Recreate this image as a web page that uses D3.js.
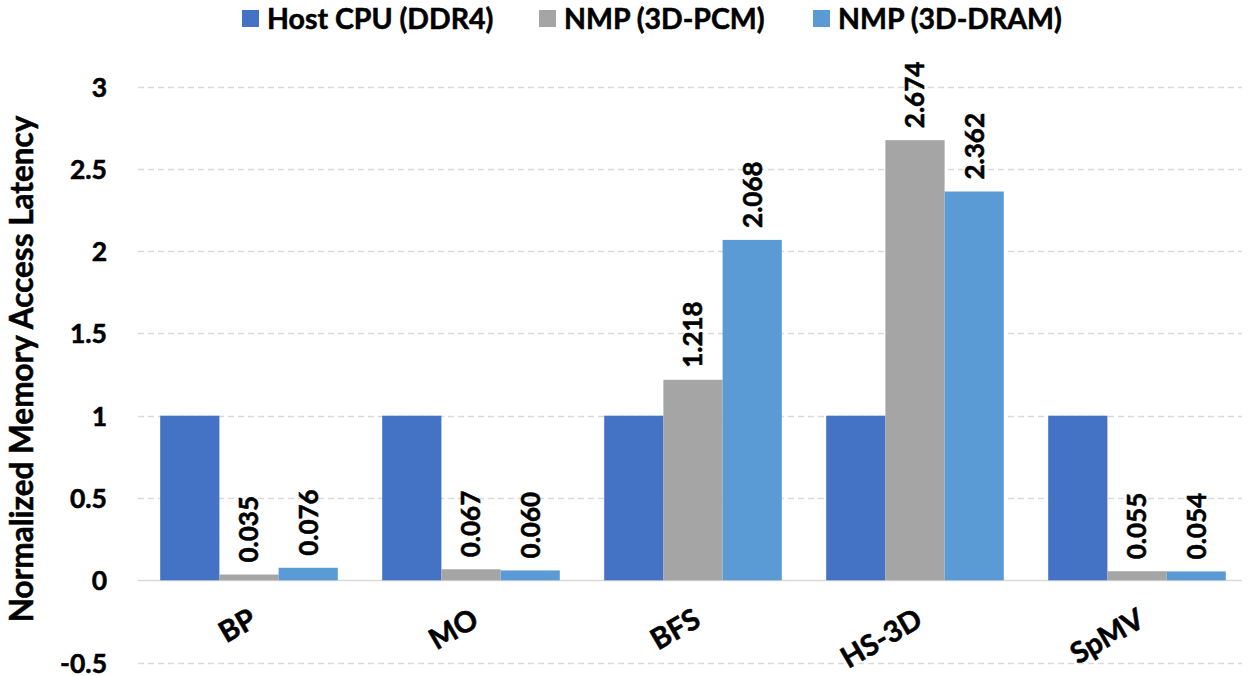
<!DOCTYPE html>
<html>
<head>
<meta charset="utf-8">
<script src="https://cdn.jsdelivr.net/npm/d3@7"></script>
<style>
  html, body { margin: 0; padding: 0; background: #fff; }
  svg { display: block; font-family: Lato, "Open Sans", sans-serif; font-weight: 700; }
  svg text { fill: #000; stroke: #000; stroke-width: 0.55px; }
</style>
</head>
<body>
<svg id="chart" width="1248" height="676"></svg>
<script>
// Workloads on the x axis
const categories = ["BP", "MO", "BFS", "HS-3D", "SpMV"];
// Series names (legend order)
const seriesNames = ["Host CPU (DDR4)", "NMP (3D-PCM)", "NMP (3D-DRAM)"];
// Normalized memory access latency per workload
const hostCPU = [1, 1, 1, 1, 1];
const nmpPCM  = [0.035, 0.067, 1.218, 2.674, 0.055];
const nmpDRAM = [0.076, 0.060, 2.068, 2.362, 0.054];
// Value labels printed above the NMP bars
const pcmLabels  = ["0.035", "0.067", "1.218", "2.674", "0.055"];
const dramLabels = ["0.076", "0.060", "2.068", "2.362", "0.054"];
// Y axis ticks
const yTicks = [-0.5, 0, 0.5, 1, 1.5, 2, 2.5, 3];
const yTickLabels = ["-0.5", "0", "0.5", "1", "1.5", "2", "2.5", "3"];

const colors = ["#4472C4", "#A5A5A5", "#5B9BD5"];
const series = [hostCPU, nmpPCM, nmpDRAM];
const labels = [null, pcmLabels, dramLabels];

const svg = d3.select("#chart");

const plot = { left: 138, right: 1248, top: 86.5, bottom: 662.6 };

const y = d3.scaleLinear().domain([-0.5, 3]).range([plot.bottom, plot.top]);
const x = d3.scaleBand().domain(categories).range([plot.left, plot.right])
  .paddingInner(0.2).paddingOuter(0.1);
const xs = d3.scaleBand().domain(d3.range(seriesNames.length)).range([0, x.bandwidth()]);

// Gridlines (dashed), zero line solid
const grid = svg.append("g");
grid.selectAll("line").data(yTicks).join("line")
  .attr("x1", plot.left).attr("x2", 1242)
  .attr("y1", d => Math.round(y(d)) + 0.5).attr("y2", d => Math.round(y(d)) + 0.5)
  .attr("stroke", "#D9D9D9").attr("stroke-width", 1.3)
  .attr("stroke-dasharray", d => d === 0 ? null : "6,4");

// Y axis tick labels
const yAxis = d3.axisLeft(y).tickValues(yTicks)
  .tickFormat((d, i) => yTickLabels[i]).tickSize(0).tickPadding(0);
const gy = svg.append("g").attr("transform", "translate(107,0)").call(yAxis);
gy.select(".domain").remove();
gy.selectAll("text").attr("font-size", 26.5).attr("font-family", "Lato").attr("font-weight", 700)
  .attr("dy", "0.36em");

// Bars
series.forEach((vals, si) => {
  svg.append("g").selectAll("rect").data(categories).join("rect")
    .attr("x", c => x(c) + xs(si))
    .attr("width", xs.bandwidth())
    .attr("y", (c, i) => y(Math.max(0, vals[i])))
    .attr("height", (c, i) => Math.abs(y(vals[i]) - y(0)))
    .attr("fill", colors[si]);
});

// Rotated value labels above NMP bars
labels.forEach((labs, si) => {
  if (!labs) return;
  const vals = series[si];
  svg.append("g").selectAll("text").data(categories).join("text")
    .attr("transform", (c, i) => {
      const cx = x(c) + xs(si) + xs.bandwidth() / 2;
      const ty = y(vals[i]) - 12;
      return `translate(${cx},${ty}) rotate(-90)`;
    })
    .attr("text-anchor", "start")
    .attr("dy", "0.36em")
    .attr("font-size", 26)
    .text((c, i) => labs[i]);
});

// Category labels, slanted
svg.append("g").selectAll("text").data(categories).join("text")
  .attr("transform", c => `translate(${x(c) + x.bandwidth() / 2 - 1},${607}) rotate(-30)`)
  .attr("text-anchor", "end")
  .attr("dy", "0.72em")
  .attr("font-size", 29)
  .text(c => c);

// Y axis title
svg.append("text")
  .attr("transform", "translate(22,369) rotate(-90)")
  .attr("text-anchor", "middle")
  .attr("dy", "0.36em")
  .attr("font-size", 31.5)
  .text("Normalized Memory Access Latency");

// Legend
const legendX = [242, 539, 813];
const legend = svg.append("g");
seriesNames.forEach((name, i) => {
  legend.append("rect").attr("x", legendX[i]).attr("y", 10).attr("width", 17).attr("height", 17)
    .attr("fill", colors[i]);
  legend.append("text").attr("x", legendX[i] + 25).attr("y", 19).attr("dy", "0.36em")
    .attr("font-size", 28.5).text(name);
});
</script>
</body>
</html>
